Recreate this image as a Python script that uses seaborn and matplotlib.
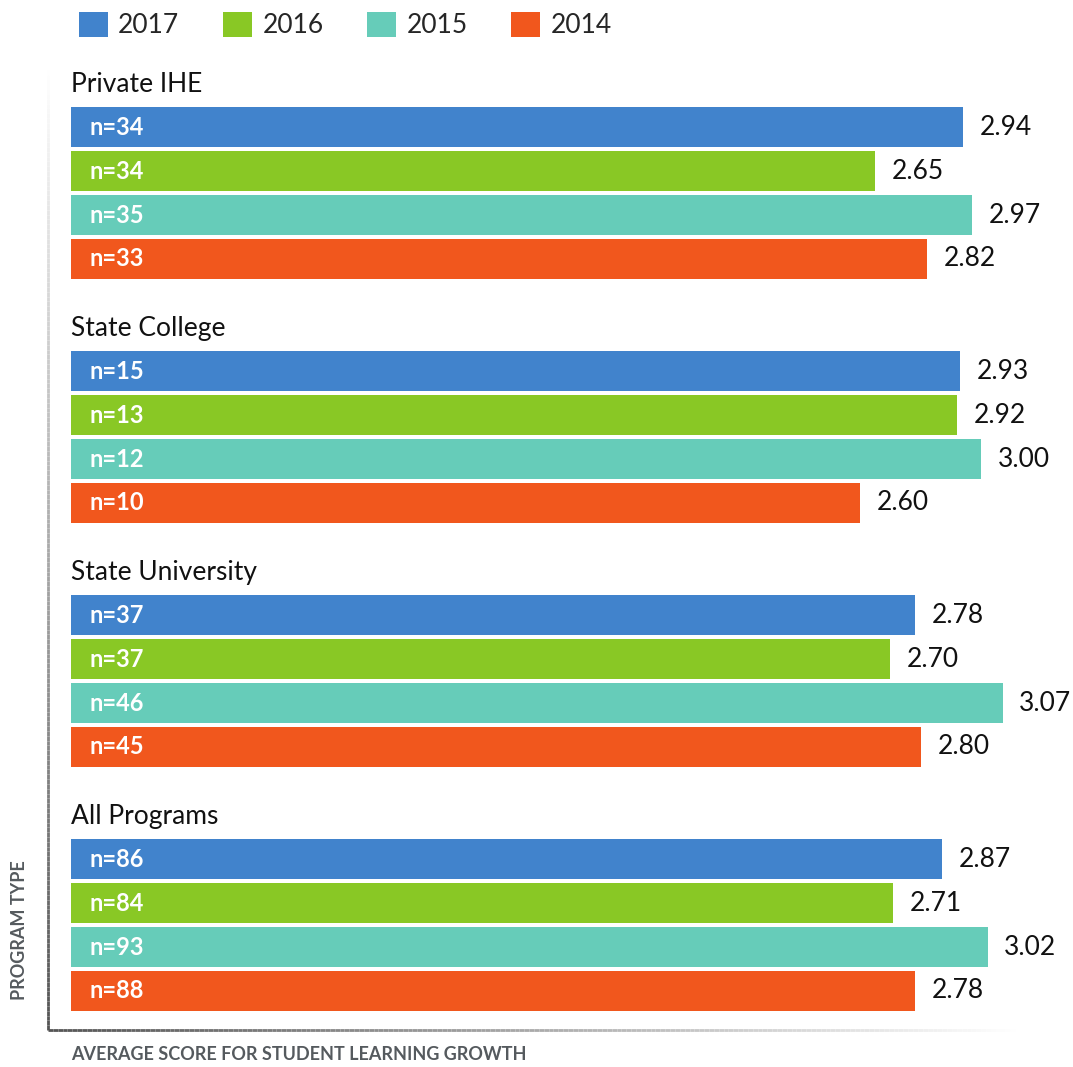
import numpy as np
import pandas as pd
import matplotlib
matplotlib.use("Agg")
import matplotlib.pyplot as plt
from matplotlib.collections import LineCollection
import seaborn as sns

# ---- data -------------------------------------------------------------
programs = ["Private IHE", "State College", "State University", "All Programs"]
years = ["2017", "2016", "2015", "2014"]

score_2017 = [2.94, 2.93, 2.78, 2.87]
score_2016 = [2.65, 2.92, 2.70, 2.71]
score_2015 = [2.97, 3.00, 3.07, 3.02]
score_2014 = [2.82, 2.60, 2.80, 2.78]

n_2017 = [34, 15, 37, 86]
n_2016 = [34, 13, 37, 84]
n_2015 = [35, 12, 46, 93]
n_2014 = [33, 10, 45, 88]

colors = ["#4183CC", "#89C825", "#66CCB9", "#F1571D"]

scores = {"2017": score_2017, "2016": score_2016, "2015": score_2015, "2014": score_2014}
counts = {"2017": n_2017, "2016": n_2016, "2015": n_2015, "2014": n_2014}

rows = []
for yr in years:
    for prog, s, n in zip(programs, scores[yr], counts[yr]):
        rows.append({"program": prog, "year": yr, "score": s, "n": n})
df = pd.DataFrame(rows)

# ---- style ------------------------------------------------------------
sns.set_theme(style="white")
plt.rcParams["font.family"] = ["Lato", "DejaVu Sans"]

W, H = 1073, 1067
fig = plt.figure(figsize=(W / 100, H / 100), dpi=100)
ax = fig.add_axes([48 / W, 37 / H, 972 / W, 965 / H])

sns.barplot(data=df, x="score", y="program", hue="year", order=programs,
            hue_order=years, palette=colors, saturation=1, width=0.72,
            gap=0.1, orient="h", errorbar=None, linewidth=0, ax=ax)

ax.set_xlim(-0.0758, 3.127)
ax.set_ylim(3.43, -0.525)
ax.set_xticks([])
ax.set_yticks([])
ax.set_xlabel("")
ax.set_ylabel("")
for sp in ax.spines.values():
    sp.set_visible(False)

# value labels and sample sizes
for yr, cont in zip(years, ax.containers):
    ax.bar_label(cont, labels=[f"{v:.2f}" for v in scores[yr]], padding=12,
                 fontsize=19, color="#111111", clip_on=False)
    for bar, n in zip(cont, counts[yr]):
        yc = bar.get_y() + bar.get_height() / 2
        ax.annotate(f"n={n}", xy=(0, yc), xytext=(13, 0),
                    textcoords="offset points", ha="left", va="center",
                    fontsize=17, fontweight="bold", color="white")

# group titles above each block of bars
for i, prog in enumerate(programs):
    ax.text(0, i - 0.36 - 0.085, prog, ha="left", va="center",
            fontsize=19, color="#111111")

# fading axis lines
def fade_line(x0, y0, x1, y1, steps=200):
    xs = np.linspace(x0, x1, steps + 1)
    ys = np.linspace(y0, y1, steps + 1)
    segs = [[(xs[k], ys[k]), (xs[k + 1], ys[k + 1])] for k in range(steps)]
    t = np.linspace(0, 1, steps)
    shade = 0.33 + 0.67 * t
    cols = [(s, s, s, 1.0) for s in shade]
    lc = LineCollection(segs, colors=cols, linewidths=2,
                        transform=ax.transAxes, clip_on=False)
    ax.add_collection(lc)

fade_line(0.0, 0.0, 0.0, 1.0)
fade_line(0.0, 0.0, 1.0, 0.0)

# legend along the top
sns.move_legend(ax, "upper left", bbox_to_anchor=(68 / W, 1 - 1 / H),
                bbox_transform=fig.transFigure, ncol=4, frameon=False,
                title=None, fontsize=19, handlelength=1.1,
                handleheight=1.1, handletextpad=0.4, columnspacing=1.65,
                borderaxespad=0)

# axis titles
fig.text(20 / W, 1 - 930 / H, "PROGRAM TYPE", rotation=90, ha="center",
         va="center", fontsize=13, fontweight="bold", color="#555a5e")
fig.text(71 / W, 1 - 1055 / H, "AVERAGE SCORE FOR STUDENT LEARNING GROWTH",
         ha="left", va="center", fontsize=13, fontweight="bold",
         color="#555a5e")

fig.savefig("out.png", dpi=100, facecolor="white")
